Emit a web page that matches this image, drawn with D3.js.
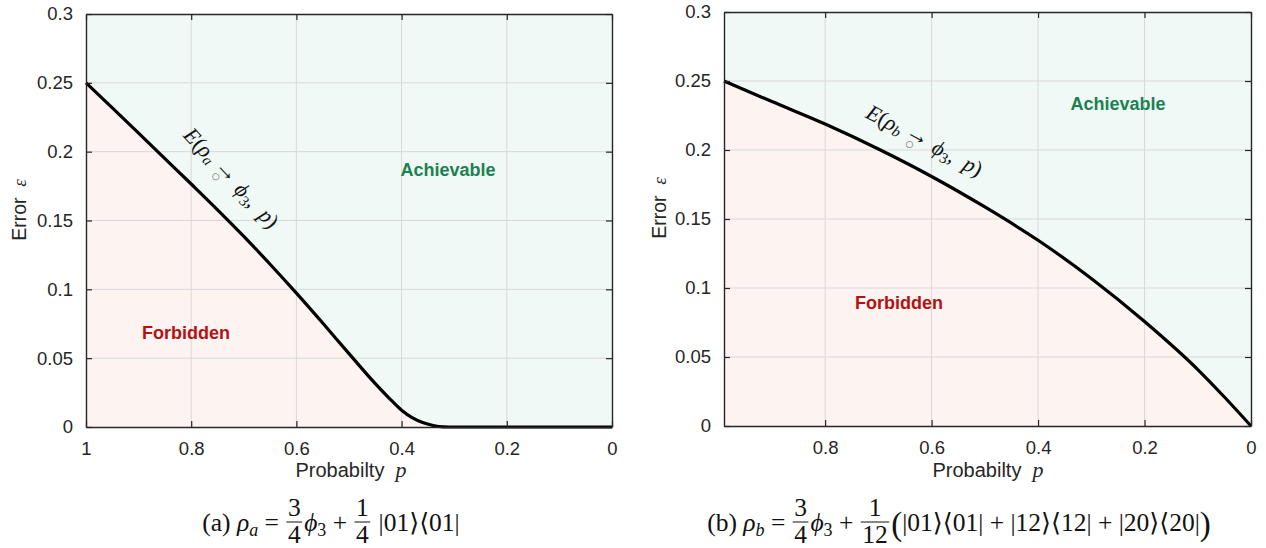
<!DOCTYPE html>
<html>
<head>
<meta charset="utf-8">
<script src="https://cdn.jsdelivr.net/npm/d3@7"></script>
<style>
  html, body { margin: 0; padding: 0; background: #ffffff; }
  svg { display: block; }
</style>
</head>
<body>
<svg id="chart" width="1266" height="548"></svg>
<script>
// ---------------- DATA ----------------
// Panel (a): E(rho_a -> phi_3, p)
const probA = [1, 0.95, 0.9, 0.85, 0.8, 0.75, 0.7, 0.65, 0.6, 0.55, 0.5, 0.45, 0.42, 0.4, 0.38, 0.36, 0.34, 0.32, 0.31, 0.2, 0.1, 0];
const errA  = [0.25, 0.2318, 0.2135, 0.195, 0.1765, 0.1578, 0.1385, 0.1182, 0.0972, 0.0755, 0.0533, 0.0315, 0.0195, 0.0122, 0.0068, 0.0032, 0.0011, 0.0001, 0, 0, 0, 0];
// Panel (b): E(rho_b -> phi_3, p)
const probB = [0.99, 0.9, 0.8, 0.7, 0.6, 0.5, 0.4, 0.3, 0.2, 0.1, 0.05, 0];
const errB  = [0.25, 0.2351, 0.2188, 0.2007, 0.1808, 0.1587, 0.1346, 0.1069, 0.0757, 0.0409, 0.021, 0];

const xTicksA = [1, 0.8, 0.6, 0.4, 0.2, 0];
const xTicksB = [0.8, 0.6, 0.4, 0.2, 0];
const yTicks  = [0, 0.05, 0.1, 0.15, 0.2, 0.25, 0.3];
const xDomainA = [1, 0];
const xDomainB = [0.99, 0];
const yDomain = [0, 0.3];

const regionLabels = ["Achievable", "Forbidden"];
const xAxisTitle = "Probabilty";
const yAxisTitle = "Error";

// ---------------- STYLE ----------------
const SANS = "'Liberation Sans', Arial, Helvetica, sans-serif";
const SERIF = "'Liberation Serif', 'DejaVu Serif', 'Times New Roman', serif";
const COL_ACH = "#f0f9f6";
const COL_FORB = "#fdf4f2";
const COL_GRID = "#d8d8d8";
const COL_AXIS = "#262626";
const COL_GREEN = "#1c8150";
const COL_RED = "#b31212";

const svg = d3.select("#chart");

function drawPanel(cfg) {
  const { left, right, top, bottom, probs, errs, xDomain, xTicks } = cfg;
  const x = d3.scaleLinear().domain(xDomain).range([left, right]);
  const y = d3.scaleLinear().domain(yDomain).range([bottom, top]);
  const g = svg.append("g");

  g.append("rect").attr("x", left).attr("y", top)
    .attr("width", right - left).attr("height", bottom - top)
    .attr("fill", COL_ACH);

  const pts = probs.map((p, i) => ({ p, e: errs[i] }));
  const area = d3.area().x(d => x(d.p)).y0(y(0)).y1(d => y(d.e)).curve(d3.curveMonotoneX);
  g.append("path").datum(pts).attr("d", area).attr("fill", COL_FORB);

  const gx = xTicks.filter(t => t !== xDomain[0] && t !== xDomain[1]);
  const gy = yTicks.filter(t => t !== yDomain[0] && t !== yDomain[1]);
  g.selectAll(".gx").data(gx).enter().append("line")
    .attr("x1", d => x(d)).attr("x2", d => x(d)).attr("y1", top).attr("y2", bottom)
    .attr("stroke", COL_GRID).attr("stroke-width", 1);
  g.selectAll(".gy").data(gy).enter().append("line")
    .attr("y1", d => y(d)).attr("y2", d => y(d)).attr("x1", left).attr("x2", right)
    .attr("stroke", COL_GRID).attr("stroke-width", 1);

  const line = d3.line().x(d => x(d.p)).y(d => y(d.e)).curve(d3.curveMonotoneX);
  g.append("path").datum(pts).attr("d", line)
    .attr("fill", "none").attr("stroke", "#000").attr("stroke-width", 3.2)
    .attr("stroke-linejoin", "round");

  const tl = 6;
  const axB = d3.axisBottom(x).tickValues(xTicks).tickSizeInner(-tl).tickSizeOuter(0).tickPadding(15).tickFormat(d => String(d));
  const axT = d3.axisTop(x).tickValues(xTicks).tickSizeInner(-tl).tickSizeOuter(0).tickFormat("");
  const axL = d3.axisLeft(y).tickValues(yTicks).tickSizeInner(-tl).tickSizeOuter(0).tickPadding(13).tickFormat(d => String(d));
  const axR = d3.axisRight(y).tickValues(yTicks).tickSizeInner(-tl).tickSizeOuter(0).tickFormat("");
  const styleAxis = sel => {
    sel.selectAll("path.domain").attr("stroke", COL_AXIS).attr("stroke-width", 1.4);
    sel.selectAll(".tick line").attr("stroke", COL_AXIS).attr("stroke-width", 1.2);
    sel.selectAll(".tick text").attr("fill", COL_AXIS).attr("font-family", SANS).attr("font-size", 18.5);
  };
  g.append("g").attr("transform", `translate(0,${bottom})`).call(axB).call(styleAxis);
  g.append("g").attr("transform", `translate(0,${top})`).call(axT).call(styleAxis);
  g.append("g").attr("transform", `translate(${left},0)`).call(axL).call(styleAxis);
  g.append("g").attr("transform", `translate(${right},0)`).call(axR).call(styleAxis);

  g.append("text").attr("x", cfg.achPos[0]).attr("y", cfg.achPos[1])
    .attr("text-anchor", "middle").attr("dominant-baseline", "central")
    .attr("font-family", SANS).attr("font-weight", "bold").attr("font-size", 18)
    .attr("fill", COL_GREEN).text(regionLabels[0]);
  g.append("text").attr("x", cfg.forbPos[0]).attr("y", cfg.forbPos[1])
    .attr("text-anchor", "middle").attr("dominant-baseline", "central")
    .attr("font-family", SANS).attr("font-weight", "bold").attr("font-size", 18)
    .attr("fill", COL_RED).text(regionLabels[1]);

  const xt = g.append("text").attr("x", cfg.xTitleX).attr("y", cfg.xTitleY)
    .attr("text-anchor", "middle").attr("fill", COL_AXIS);
  xt.append("tspan").attr("font-family", SANS).attr("font-size", 20).text(xAxisTitle + "\u00a0\u00a0");
  xt.append("tspan").attr("font-family", SERIF).attr("font-style", "italic").attr("font-size", 22).text("p");

  const yt = g.append("text").attr("transform", `translate(${cfg.yTitleX},${cfg.yTitleY}) rotate(-90)`)
    .attr("text-anchor", "middle").attr("fill", COL_AXIS);
  yt.append("tspan").attr("font-family", SANS).attr("font-size", 19.5).text(yAxisTitle + "\u00a0\u00a0");
  yt.append("tspan").attr("font-family", SERIF).attr("font-style", "italic").attr("font-size", 19).text("\u03b5");

  const cl = g.append("text")
    .attr("transform", `translate(${cfg.curveLab[0]},${cfg.curveLab[1]}) rotate(${cfg.curveLab[2]})`)
    .attr("text-anchor", "middle").attr("font-family", SERIF).attr("font-size", 22).attr("fill", "#111");
  cl.append("tspan").attr("font-style", "italic").text("E");
  cl.append("tspan").text("(");
  cl.append("tspan").attr("font-style", "italic").text("\u03c1");
  cl.append("tspan").attr("font-style", "italic").attr("font-size", 15).attr("dy", 3).text(cfg.sub);
  cl.append("tspan").attr("dy", -5).attr("dx", 5).attr("font-size", 24).text("\u2192");
  cl.append("tspan").attr("dy", 10).attr("dx", -20).attr("font-size", 16).attr("fill", "#808080").text("\u25cb");
  cl.append("tspan").attr("dy", -8).attr("dx", 17).attr("font-style", "italic").text("\u03d5");
  cl.append("tspan").attr("font-size", 15).attr("dy", 4).text("3");
  cl.append("tspan").attr("dy", -4).text(",\u2002");
  cl.append("tspan").attr("font-style", "italic").text("p");
  cl.append("tspan").text(")");
}

function caption(pieces, cx, baseY) {
  const g = svg.append("g");
  let cur = 0;
  const fs = 25.5;
  pieces.forEach(pc => {
    if (pc.frac) {
      const num = g.append("text").attr("y", baseY - 15).attr("font-family", SERIF).attr("font-size", fs).attr("text-anchor", "middle").attr("fill", "#111").text(pc.frac[0]);
      const den = g.append("text").attr("y", baseY + 12).attr("font-family", SERIF).attr("font-size", fs).attr("text-anchor", "middle").attr("fill", "#111").text(pc.frac[1]);
      const w = Math.max(num.node().getComputedTextLength(), den.node().getComputedTextLength()) + 3;
      num.attr("x", cur + w / 2 + 1); den.attr("x", cur + w / 2 + 1);
      g.append("line").attr("x1", cur + 1).attr("x2", cur + w + 1).attr("y1", baseY - 9).attr("y2", baseY - 9)
        .attr("stroke", "#111").attr("stroke-width", 1);
      cur += w + 3;
    } else {
      const t = g.append("text").attr("x", cur).attr("y", baseY + (pc.sub ? 5 : 0))
        .attr("font-family", SERIF).attr("font-size", pc.sub ? 18 : (pc.big ? 33 : fs))
        .attr("font-style", pc.it || pc.sub === "i" ? "italic" : null)
        .attr("fill", "#111").text(pc.t);
      if (pc.big) t.attr("y", baseY + 4);
      cur += t.node().getComputedTextLength();
    }
  });
  g.attr("transform", `translate(${cx - cur / 2},0)`);
}

drawPanel({
  left: 86, right: 612, top: 14, bottom: 427,
  probs: probA, errs: errA, xDomain: xDomainA, xTicks: xTicksA,
  achPos: [448, 170], forbPos: [186, 333],
  xTitleX: 351, xTitleY: 477, yTitleX: 26, yTitleY: 210,
  curveLab: [226, 183, 47], sub: "a"
});
drawPanel({
  left: 724, right: 1251, top: 12, bottom: 426,
  probs: probB, errs: errB, xDomain: xDomainB, xTicks: xTicksB,
  achPos: [1118, 104], forbPos: [899, 303],
  xTitleX: 988, xTitleY: 477, yTitleX: 666, yTitleY: 208,
  curveLab: [921, 147, 28], sub: "b"
});

caption([
  { t: "(a)\u00a0" }, { t: "\u03c1", it: true }, { t: "a", sub: "i" }, { t: "\u00a0=\u00a0" },
  { frac: ["3", "4"] }, { t: "\u03d5", it: true }, { t: "3", sub: true }, { t: "\u00a0+\u00a0" },
  { frac: ["1", "4"] }, { t: "\u00a0|01\u27e9\u27e801|" }
], 331, 531);

caption([
  { t: "(b)\u00a0" }, { t: "\u03c1", it: true }, { t: "b", sub: "i" }, { t: "\u00a0=\u00a0" },
  { frac: ["3", "4"] }, { t: "\u03d5", it: true }, { t: "3", sub: true }, { t: "\u00a0+\u00a0" },
  { frac: ["1", "12"] }, { t: "(", big: true },
  { t: "|01\u27e9\u27e801|\u00a0+\u00a0|12\u27e9\u27e812|\u00a0+\u00a0|20\u27e9\u27e820|" }, { t: ")", big: true }
], 959, 531);
</script>
</body>
</html>
